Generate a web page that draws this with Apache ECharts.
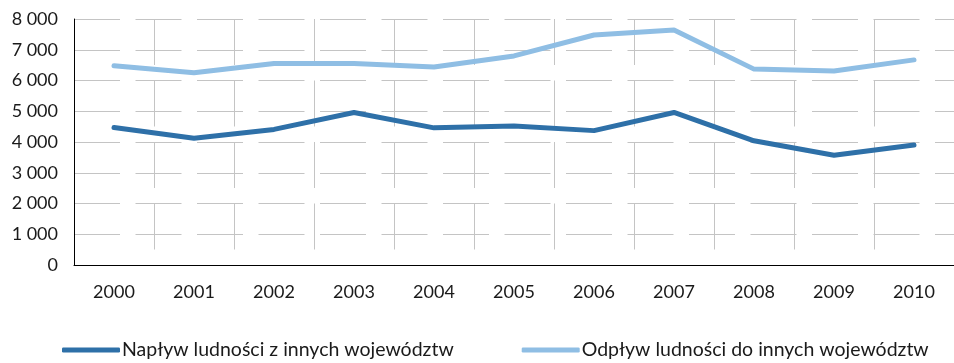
<!DOCTYPE html>
<html>
<head>
<meta charset="utf-8">
<script src="https://cdn.jsdelivr.net/npm/echarts@6/dist/echarts.min.js"></script>
<style>
  html, body { margin: 0; padding: 0; background: #ffffff; }
  #chart { width: 954px; height: 363px; }
</style>
</head>
<body>
<div id="chart"></div>
<script>
// Migracje międzywojewódzkie, 2000–2010
const years = ['2000', '2001', '2002', '2003', '2004', '2005', '2006', '2007', '2008', '2009', '2010'];
const naplyw = [4470, 4120, 4410, 4960, 4460, 4520, 4370, 4960, 4040, 3570, 3900];
const odplyw = [6480, 6250, 6550, 6550, 6440, 6800, 7480, 7640, 6370, 6310, 6670];
const seriesNames = ['Napływ ludności z innych województw', 'Odpływ ludności do innych województw'];
const seriesColors = ['#2E70A8', '#8FBEE4'];

const FONT = 'Lato';
const gridLine = { color: '#c4c4c4', width: 1, type: [46, 15.5] };

const chart = echarts.init(document.getElementById('chart'), null, { renderer: 'canvas' });

function lineSeries(name, data, color) {
  return {
    name: name,
    type: 'line',
    data: data,
    symbol: 'none',
    smooth: false,
    lineStyle: { color: color, width: 5, cap: 'round', join: 'round' },
    itemStyle: { color: color },
    emphasis: { disabled: true }
  };
}

chart.setOption({
  animation: false,
  backgroundColor: '#ffffff',
  grid: { left: 74, top: 19, width: 883, height: 246, containLabel: false },
  legend: {
    left: 57,
    top: 335,
    itemWidth: 58,
    itemHeight: 5,
    itemGap: 68,
    icon: 'roundRect',
    textStyle: { fontFamily: FONT, fontSize: 19.5, color: '#1a1a1a', padding: [0, 0, 0, -3] },
    data: seriesNames
  },
  xAxis: {
    type: 'category',
    data: years,
    boundaryGap: true,
    axisLine: { show: true, lineStyle: { color: '#000000', width: 1 } },
    axisTick: { show: false },
    axisLabel: { fontFamily: FONT, fontSize: 18, color: '#1a1a1a', margin: 18 },
    splitLine: { show: true, lineStyle: gridLine }
  },
  yAxis: {
    type: 'value',
    min: 0,
    max: 8000,
    interval: 1000,
    axisLine: { show: true, lineStyle: { color: '#000000', width: 1 } },
    axisTick: { show: false },
    axisLabel: {
      fontFamily: FONT, fontSize: 18, color: '#1a1a1a', margin: 16,
      formatter: function (v) {
        return v >= 1000 ? Math.floor(v / 1000) + ' ' + String(v % 1000).padStart(3, '0') : String(v);
      }
    },
    splitLine: { show: true, lineStyle: gridLine }
  },
  series: [
    lineSeries(seriesNames[0], naplyw, seriesColors[0]),
    lineSeries(seriesNames[1], odplyw, seriesColors[1])
  ]
});
</script>
</body>
</html>
